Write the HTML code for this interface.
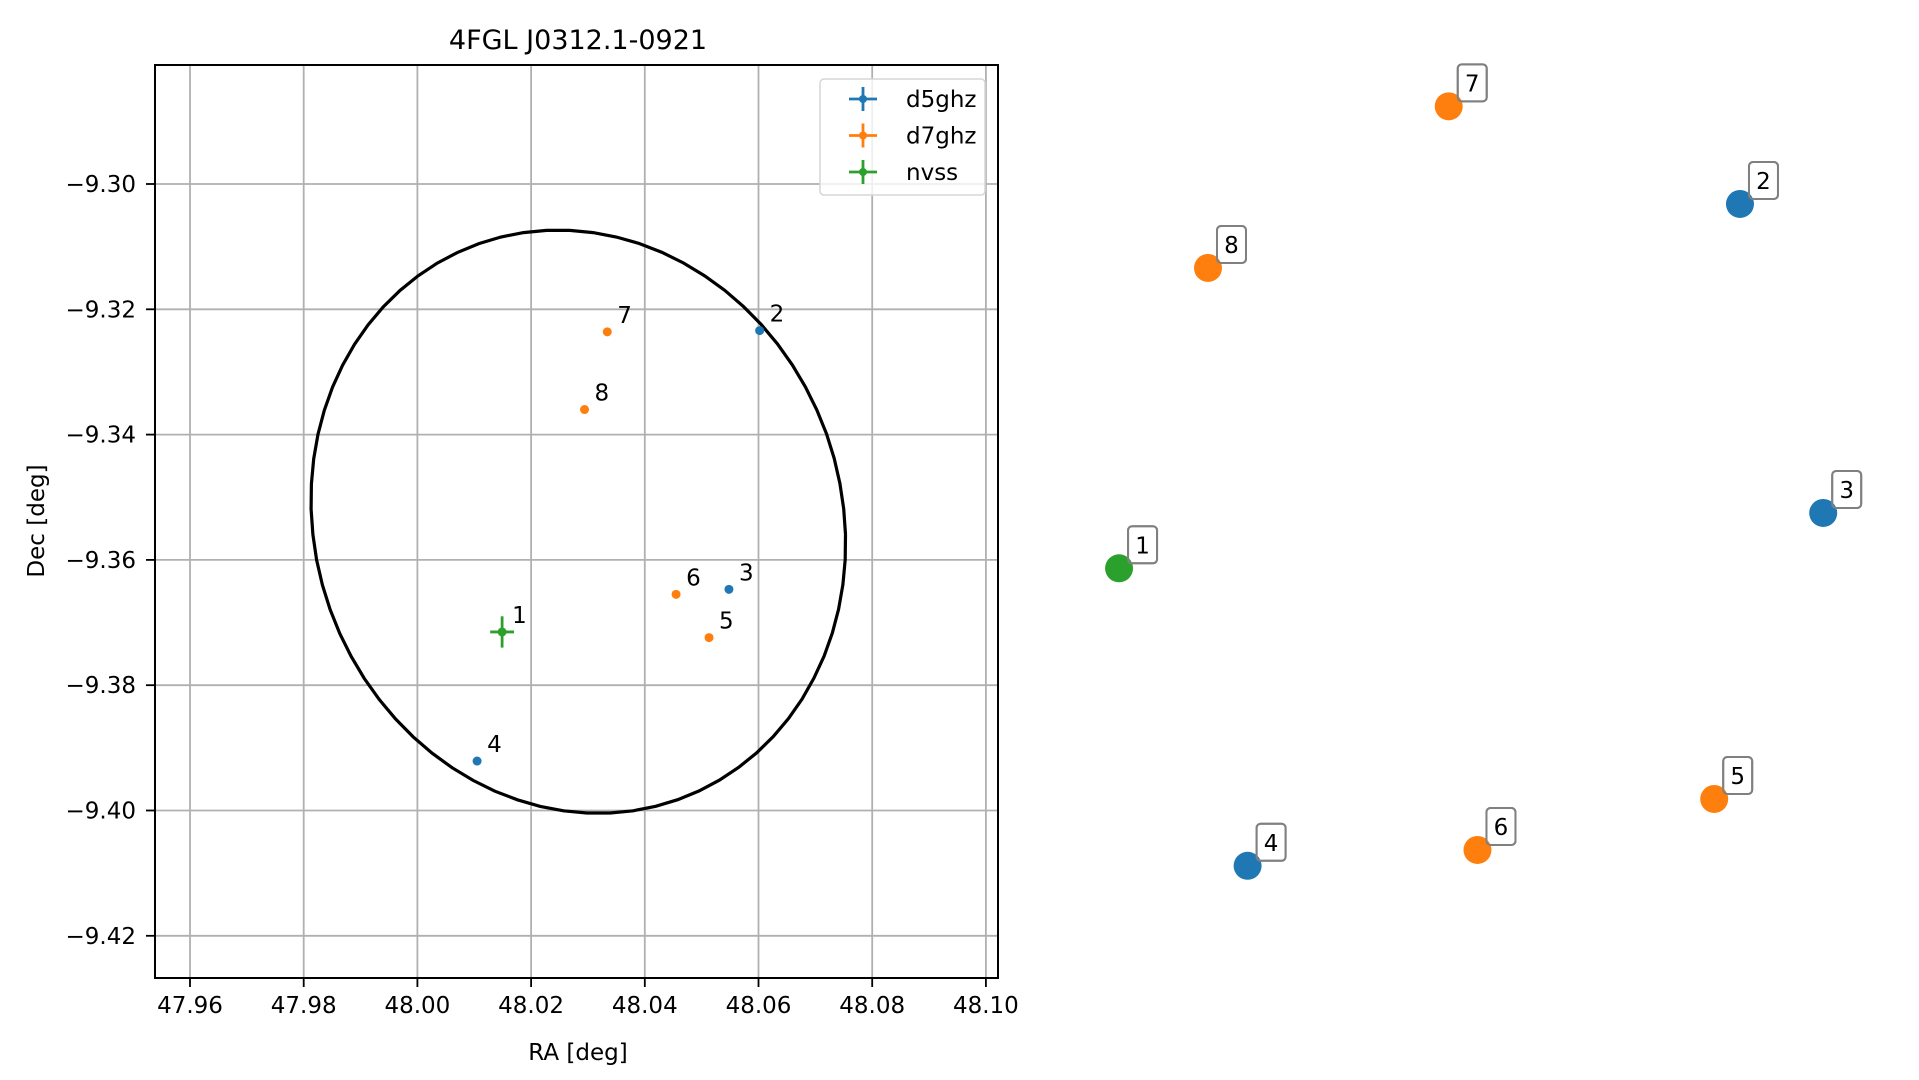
<!DOCTYPE html>
<html><head><meta charset="utf-8">
<style>
html,body{margin:0;padding:0;background:#fff;}
svg{display:block;font-family:"DejaVu Sans","Liberation Sans",sans-serif;}
</style></head>
<body>
<svg id="chart" width="1919" height="1080" viewBox="0 0 1919 1080" xmlns="http://www.w3.org/2000/svg">
<rect width="1919" height="1080" fill="#fff"/>
<g id="grid"></g>
<g id="ellipse"></g>
<g id="points"></g>
<rect x="155" y="65" width="843" height="913" fill="none" stroke="#000" stroke-width="2"/>
<g id="ticks"></g>
<text x="578" y="49" font-size="27" text-anchor="middle">4FGL J0312.1-0921</text>
<text x="578" y="1060" font-size="23" text-anchor="middle">RA [deg]</text>
<text transform="translate(44,521) rotate(-90)" font-size="23" text-anchor="middle">Dec [deg]</text>
<g id="legend"></g>
<g id="right"></g>
</svg>
<script>
const NS="http://www.w3.org/2000/svg";
// ---- data ----
const xTicks=[47.96,47.98,48.00,48.02,48.04,48.06,48.08,48.10];
const xTickLabels=["47.96","47.98","48.00","48.02","48.04","48.06","48.08","48.10"];
const yTicks=[-9.30,-9.32,-9.34,-9.36,-9.38,-9.40,-9.42];
const yTickLabels=["\u22129.30","\u22129.32","\u22129.34","\u22129.36","\u22129.38","\u22129.40","\u22129.42"];
const srcIds=["1","2","3","4","5","6","7","8"];
const srcSeries=["nvss","d5ghz","d5ghz","d5ghz","d7ghz","d7ghz","d7ghz","d7ghz"];
const srcRA=[48.0149,48.0602,48.0548,48.0105,48.0513,48.0455,48.0334,48.0294];
const srcDec=[-9.3715,-9.3234,-9.3647,-9.3921,-9.3724,-9.3655,-9.3236,-9.3360];
const srcErrRA=[0.0021,0,0,0,0,0,0,0];
const srcErrDec=[0.0025,0,0,0,0,0,0,0];
const ellipseCenter=[48.0283,-9.3539];
const ellipseU=[0.0470,-0.0020];
const ellipseV=[-0.0015,0.0465];
const seriesNames=["d5ghz","d7ghz","nvss"];
const seriesColors=["#1f77b4","#ff7f0e","#2ca02c"];
// right panel: normalized positions (0..1)
const mapX=[0.0243,0.8600,0.9720,0.1973,0.8253,0.5067,0.4680,0.1440];
const mapY=[0.5980,0.1694,0.5329,0.9480,0.8694,0.9294,0.0545,0.2447];

// ---- axes ----
const X=v=>190+(v-47.96)/0.02*113.7;
const Y=v=>184+(-9.30-v)/0.02*125.3;
const MX=v=>1101+v*743;
const MY=v=>60+v*850;
const colorOf=s=>seriesColors[seriesNames.indexOf(s)];
function mk(tag,attrs,parent,text){const e=document.createElementNS(NS,tag);for(const k in attrs)e.setAttribute(k,attrs[k]);if(text!==undefined)e.textContent=text;parent.appendChild(e);return e;}

const grid=document.getElementById('grid'),ticks=document.getElementById('ticks');
xTicks.forEach((v,i)=>{
  const g=mk('line',{x1:X(v),x2:X(v),y1:65,y2:978,stroke:'#b0b0b0','stroke-width':1.8},grid);
  
  
  const t=mk('line',{x1:X(v),x2:X(v),y1:978,y2:987,stroke:'#000','stroke-width':1.8},ticks);
  
  
  const l=mk('text',{x:X(v),y:1013,'font-size':23,'text-anchor':'middle'},ticks,xTickLabels[i]);
  
  
});
yTicks.forEach((v,i)=>{
  const g=mk('line',{x1:155,x2:998,y1:Y(v),y2:Y(v),stroke:'#b0b0b0','stroke-width':1.8},grid);
  
  
  const t=mk('line',{x1:146,x2:155,y1:Y(v),y2:Y(v),stroke:'#000','stroke-width':1.8},ticks);
  
  
  const l=mk('text',{x:136,y:Y(v)+8,'font-size':23,'text-anchor':'end'},ticks,yTickLabels[i]);
  
  
});

// ellipse
let pts=[];
for(let k=0;k<=72;k++){const t=k/72*2*Math.PI;
  pts.push(X(ellipseCenter[0]+ellipseU[0]*Math.cos(t)+ellipseV[0]*Math.sin(t)).toFixed(1)+','+Y(ellipseCenter[1]+ellipseU[1]*Math.cos(t)+ellipseV[1]*Math.sin(t)).toFixed(1));}
const el=mk('polyline',{points:pts.join(' '),fill:'none',stroke:'#000','stroke-width':3.2},document.getElementById('ellipse'));



// points
const pg=document.getElementById('points');
srcIds.forEach((id,i)=>{
  const c=colorOf(srcSeries[i]),px=X(srcRA[i]),py=Y(srcDec[i]);
  if(srcErrRA[i]>0){
    const e1=mk('line',{x1:X(srcRA[i]-srcErrRA[i]),x2:X(srcRA[i]+srcErrRA[i]),y1:py,y2:py,stroke:c,'stroke-width':2.8},pg);
    
    
  }
  if(srcErrDec[i]>0){
    const e2=mk('line',{x1:px,x2:px,y1:Y(srcDec[i]-srcErrDec[i]),y2:Y(srcDec[i]+srcErrDec[i]),stroke:c,'stroke-width':2.8},pg);
    
    
  }
  const d=mk('circle',{cx:px,cy:py,r:4.5,fill:c},pg);
  
  
  const l=mk('text',{x:px+10,y:py-9,'font-size':23},pg,id);
  
  
});

// legend
const lg=document.getElementById('legend');
const lb=mk('rect',{x:820,y:79,width:165,height:116,rx:4,fill:'#fff','fill-opacity':0.8,stroke:'#d6d6d6','stroke-width':1.5},lg);


seriesNames.forEach((s,i)=>{
  const cy=99+i*36.5,c=seriesColors[i];
  const h=mk('line',{x1:849,x2:877,y1:cy,y2:cy,stroke:c,'stroke-width':2.8},lg);
  
  
  const v=mk('line',{x1:863,x2:863,y1:cy-12,y2:cy+12,stroke:c,'stroke-width':2.8},lg);
  
  
  const dt=mk('circle',{cx:863,cy:cy,r:4,fill:c},lg);
  
  
  const t=mk('text',{x:906,y:cy+8,'font-size':23},lg,s);
  
  
});

// right panel
const rg=document.getElementById('right');
srcIds.forEach((id,i)=>{
  const c=colorOf(srcSeries[i]),px=MX(mapX[i]),py=MY(mapY[i]);
  const b=mk('rect',{x:px+9,y:py-42,width:29,height:37,rx:4,fill:'#fff',stroke:'#808080','stroke-width':2},rg);
  
  
  const d=mk('circle',{cx:px,cy:py,r:14,fill:c},rg);
  
  
  const b2=mk('rect',{x:px+9,y:py-42,width:29,height:37,rx:4,fill:'none',stroke:'#808080','stroke-width':2},rg);
  
  
  const t=mk('text',{x:px+23.5,y:py-15,'font-size':23,'text-anchor':'middle'},rg,id);
  
  
});
</script>
</body></html>
